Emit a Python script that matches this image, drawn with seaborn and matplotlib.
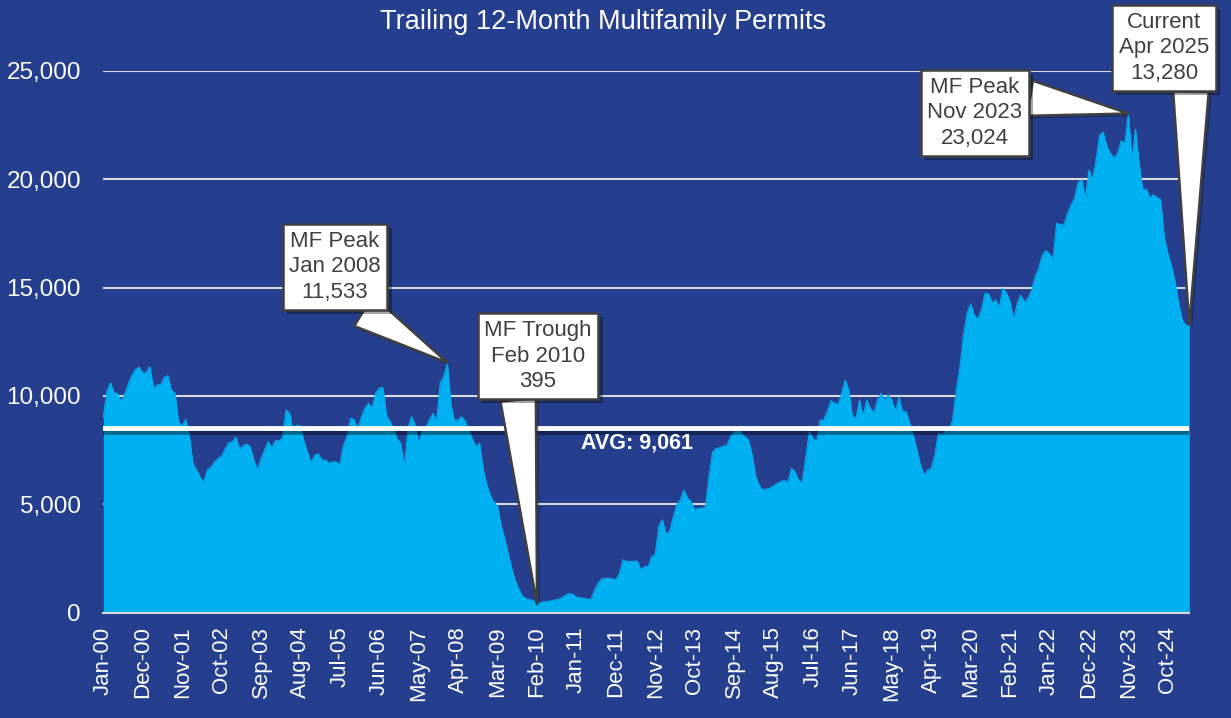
import numpy as np
import pandas as pd
import seaborn as sns
import matplotlib.pyplot as plt
import matplotlib.patheffects as pe
from matplotlib.ticker import FuncFormatter

# trailing 12-month multifamily permits, monthly Jan 2000 - Apr 2025
permits = [
    9000, 10200, 10600, 10150, 10100, 9750, 10100, 10550, 10950, 11230, 11320, 11050,   # 2000
    11080, 11350, 10350, 10500, 10520, 10860, 10930, 10270, 10120, 8800, 8600, 8900,    # 2001
    8200, 6890, 6580, 6270, 6000, 6580, 6700, 6950, 7100, 7230, 7550, 7840,             # 2002
    7880, 8100, 7550, 7700, 7770, 7660, 7040, 6580, 7100, 7500, 7890, 7600,             # 2003
    7930, 7930, 8040, 9350, 9200, 8300, 8650, 8600, 7900, 7400, 6890, 7270,             # 2004
    7320, 7040, 7040, 6890, 6960, 6960, 6810, 7700, 8120, 8970, 8890, 8430,             # 2005
    9040, 9430, 9660, 9430, 10150, 10350, 10400, 9100, 8810, 8500, 8000, 7810,          # 2006
    6730, 8500, 9040, 8660, 7810, 8430, 8550, 8900, 9200, 8810, 10580, 10890,           # 2007
    11533, 9600, 8810, 8890, 9040, 8810, 8400, 8000, 7660, 7810, 6580, 5900,            # 2008
    5400, 5100, 4900, 4000, 3400, 2700, 2000, 1450, 1050, 750, 640, 600,                # 2009
    550, 395, 480, 500, 510, 550, 580, 620, 700, 800, 880, 850,                         # 2010
    710, 690, 660, 640, 600, 1000, 1350, 1550, 1580, 1590, 1560, 1520,                  # 2011
    1800, 2430, 2350, 2360, 2370, 2380, 1970, 2120, 2130, 2580, 2690, 4000,             # 2012
    4280, 3650, 3740, 4400, 5000, 5200, 5660, 5280, 5120, 4740, 4810, 4810,             # 2013
    4900, 6300, 7400, 7580, 7600, 7690, 7700, 8120, 8350, 8460, 8300, 8100,             # 2014
    7970, 7300, 6300, 5850, 5660, 5700, 5740, 5850, 5950, 6050, 6100, 6000,             # 2015
    6660, 6500, 6100, 6000, 7200, 8350, 8040, 7890, 8890, 8890, 9270, 9780,             # 2016
    9660, 9600, 10120, 10730, 10270, 9040, 8970, 9810, 9040, 9810, 9430, 9200,          # 2017
    9800, 10120, 9810, 10040, 9810, 9270, 9930, 9270, 9270, 8740, 8200, 7500,           # 2018
    6800, 6350, 6580, 6660, 7270, 8280, 8200, 8400, 8400, 8890, 10300, 11300,           # 2019
    12800, 13810, 14240, 13730, 13530, 13960, 14730, 14700, 14300, 14420, 14090, 14960, # 2020
    14730, 14350, 13500, 14270, 14650, 14320, 14500, 14880, 15500, 15880, 16500, 16700, # 2021
    16550, 16350, 17960, 17900, 17880, 18400, 18810, 19110, 19850, 19960, 19110, 20420, # 2022
    19960, 20880, 22030, 22160, 21500, 21190, 20960, 21190, 21770, 21650, 23024, 20880, # 2023
    22300, 20730, 19500, 19530, 19160, 19270, 19150, 19040, 17340, 16580, 16000, 15300, # 2024
    14300, 13500, 13250, 13280,                                                         # 2025
]
months = pd.date_range("2000-01-01", periods=len(permits), freq="MS")
tick_labels = list(months[::11].strftime("%b-%y"))

avg_level = 8540          # where the avg line sits in the chart
avg_label = "AVG: 9,061"

callout_text = ["MF Peak\nJan 2008\n11,533", "MF Trough\nFeb 2010\n395",
                "MF Peak\nNov 2023\n23,024", "Current\nApr 2025\n13,280"]
callout_idx = [96, 121, 286, 303]
callout_val = [11533, 395, 23024, 13280]

bg = "#253F8E"
fill = "#00B0F0"
grid = "#D9D9D9"

sns.set_style("white")
plt.rcParams["font.family"] = ["Liberation Sans", "DejaVu Sans"]

df = pd.DataFrame({"idx": np.arange(len(permits)), "permits": permits})

fig = plt.figure(figsize=(12.31, 7.18), dpi=100, facecolor=bg)
ax = fig.add_axes([103.3 / 1231, 1 - 612.7 / 718, 1086 / 1231, 542 / 718])
ax.set_facecolor(bg)

sns.lineplot(data=df, x="idx", y="permits", color=fill, lw=0.8, ax=ax, zorder=2)
ax.fill_between(df["idx"], df["permits"], color=fill, lw=0, zorder=2)

ax.set_xlim(0, len(permits) - 1)
ax.set_ylim(0, 25000)
ax.set_yticks(range(0, 25001, 5000))
ax.yaxis.set_major_formatter(FuncFormatter(lambda v, _: f"{v:,.0f}"))
ax.set_xticks(df["idx"][::11])
ax.set_xticklabels(tick_labels, rotation=90)
ax.set_xlabel("")
ax.set_ylabel("")
ax.grid(axis="y", color=grid, lw=1.5)
ax.grid(axis="x", visible=False)
ax.set_axisbelow(True)
for s in ["top", "right", "left"]:
    ax.spines[s].set_visible(False)
ax.spines["bottom"].set_color(grid)
ax.spines["bottom"].set_linewidth(1.5)
ax.spines["bottom"].set_zorder(3)
ax.tick_params(axis="x", colors=grid, labelcolor="white", length=6, width=1.5,
               labelsize=16, pad=4)
ax.tick_params(axis="y", length=0, labelcolor="white", labelsize=17.5, pad=16)

# average line
ax.axhline(avg_level, color="white", lw=3.5, zorder=4,
           path_effects=[pe.SimpleLineShadow(offset=(0, -3), shadow_color="black", alpha=0.4),
                         pe.Normal()])
ax.text(149, 7830, avg_label, ha="center", va="center", color="white",
        fontsize=15.5, fontweight="bold", zorder=5)

fig.text(0.490, 0.969, "Trailing 12-Month Multifamily Permits", ha="center", va="center",
         color="white", fontsize=19.5)

# callouts: box centres in figure pixels, and where the pointer leaves the box
box_xy = [(335, 718 - 267), (538, 718 - 356), (975, 718 - 113), (1164, 718 - 48)]
pointer_from = [(0.55, 0.1), (0.3, 0.15), (0.85, 0.75), (0.8, 0.15)]
for txt, i, v, xy, rp in zip(callout_text, callout_idx, callout_val, box_xy, pointer_from):
    ann = ax.annotate(txt, xy=(i, v), xytext=xy, textcoords="figure pixels",
                      ha="center", va="center", fontsize=16, color="#404040",
                      linespacing=1.3, zorder=6, annotation_clip=False,
                      bbox=dict(boxstyle="square,pad=0.3", fc="white", ec="#404040", lw=1.8),
                      arrowprops=dict(arrowstyle="wedge,tail_width=1.6,shrink_factor=0.5",
                                      fc="white", ec="#404040", lw=1.8, relpos=rp,
                                      shrinkA=0, shrinkB=0))
    ann.get_bbox_patch().set_path_effects(
        [pe.withSimplePatchShadow(offset=(3, -3), shadow_rgbFace="black", alpha=0.35)])
    ann.arrow_patch.set_path_effects(
        [pe.withSimplePatchShadow(offset=(2, -2), shadow_rgbFace="black", alpha=0.25)])

fig.savefig("out.png", dpi=100, facecolor=bg)
